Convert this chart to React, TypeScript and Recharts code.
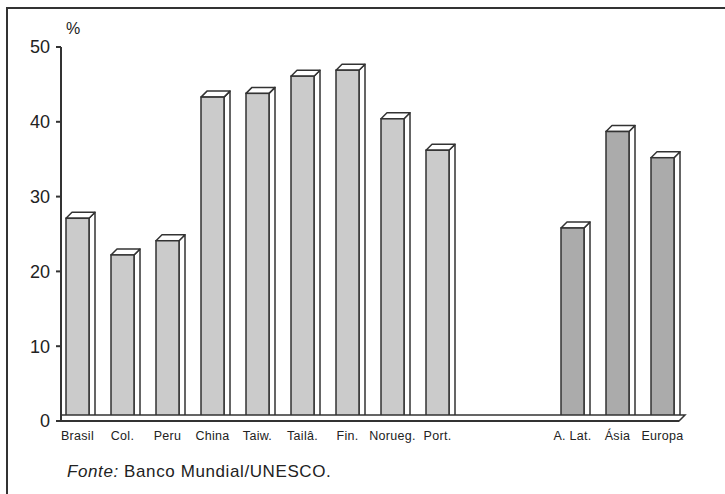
import React from 'react';
import { BarChart, Bar, XAxis, YAxis, Cell, ReferenceLine } from 'recharts';

// countries, then regional averages (percent)
const countries = ['Brasil', 'Col.', 'Peru', 'China', 'Taiw.', 'Tailâ.', 'Fin.', 'Norueg.', 'Port.'];
const countryValues = [27.1, 22.2, 24.1, 43.3, 43.8, 46.1, 46.9, 40.4, 36.2];
const regions = ['A. Lat.', 'Ásia', 'Europa'];
const regionValues = [25.8, 38.7, 35.2];
const yTicks = [0, 10, 20, 30, 40, 50];

const gapSlots = ['', ' '];

const data = [
  ...countries.map((name, i) => ({ name, value: countryValues[i], kind: 'country' })),
  ...gapSlots.map((name) => ({ name, value: null as number | null, kind: 'gap' })),
  ...regions.map((name, i) => ({ name, value: regionValues[i], kind: 'region' })),
];

const FONT = '"Liberation Sans", Arial, Helvetica, sans-serif';
const INK = '#333';
const TEXT = '#222';
const DEPTH = 6;

const Bar3D = (props: any) => {
  const { x, y, width, height, fill } = props;
  if (!height || height <= 0) return null;
  const d = DEPTH;
  return (
    <g>
      <polygon
        points={`${x + width},${y} ${x + width + d},${y - d} ${x + width + d},${y + height - d} ${x + width},${y + height}`}
        fill="#fff"
        stroke={INK}
        strokeWidth={1.5}
        strokeLinejoin="round"
      />
      <polygon
        points={`${x},${y} ${x + d},${y - d} ${x + width + d},${y - d} ${x + width},${y}`}
        fill="#fff"
        stroke={INK}
        strokeWidth={1.5}
        strokeLinejoin="round"
      />
      <rect x={x} y={y} width={width} height={height} fill={fill} stroke={INK} strokeWidth={1.5} />
    </g>
  );
};

const Floor = (props: any) => {
  const { x1, x2, y1 } = props;
  if (x1 == null) return null;
  const d = DEPTH;
  return (
    <polygon
      points={`${x1},${y1} ${x2},${y1} ${x2 + d},${y1 - d} ${x1},${y1 - d}`}
      fill="#fff"
      stroke={INK}
      strokeWidth={1.5}
    />
  );
};

export default function App() {
  return (
    <div
      style={{
        position: 'absolute',
        left: 0,
        top: 0,
        width: 725,
        height: 494,
        background: '#fff',
        fontFamily: FONT,
        overflow: 'hidden',
      }}
    >
      <div
        style={{
          position: 'absolute',
          left: 6,
          top: 7,
          width: 730,
          height: 500,
          borderTop: `2px solid ${INK}`,
          borderLeft: `2px solid ${INK}`,
        }}
      />
      <BarChart
        width={725}
        height={494}
        data={data}
        margin={{ top: 47, right: 46, left: 0, bottom: 48 }}
        barSize={23}
      >
        <ReferenceLine y={0} shape={<Floor />} />
        <XAxis
          dataKey="name"
          interval={0}
          height={25}
          padding={{ left: -6, right: -6 }}
          tickLine={false}
          axisLine={{ stroke: INK, strokeWidth: 2 }}
          tick={{ fontSize: 12.5, fill: TEXT, fontFamily: FONT, letterSpacing: 0.3 }}
          tickMargin={4}
        />
        <YAxis
          width={61}
          domain={[0, 50]}
          ticks={yTicks}
          interval={0}
          tickSize={5}
          tickMargin={6}
          axisLine={{ stroke: INK, strokeWidth: 2 }}
          tickLine={{ stroke: INK, strokeWidth: 2 }}
          tick={{ fontSize: 18, fill: TEXT, fontFamily: FONT }}
        />
        <Bar dataKey="value" shape={<Bar3D />} isAnimationActive={false}>
          {data.map((row, i) => (
            <Cell key={i} fill={row.kind === 'region' ? '#ababab' : '#cbcbcb'} />
          ))}
        </Bar>
      </BarChart>
      <div style={{ position: 'absolute', left: 66, top: 20, fontSize: 16, color: TEXT }}>%</div>
      <div
        style={{
          position: 'absolute',
          left: 67,
          top: 462,
          fontSize: 17,
          letterSpacing: 0.6,
          color: TEXT,
        }}
      >
        <i>Fonte:</i> Banco Mundial/UNESCO.
      </div>
    </div>
  );
}
